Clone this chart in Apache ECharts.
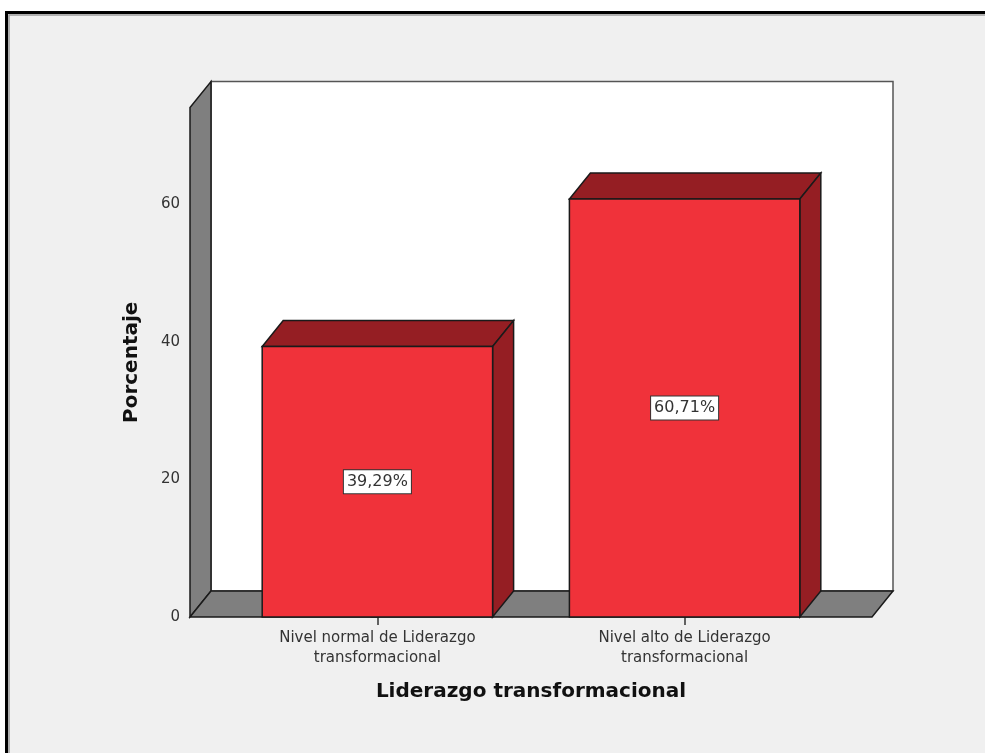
<!DOCTYPE html>
<html>
<head>
<meta charset="utf-8">
<script src="https://cdn.jsdelivr.net/npm/echarts@6/dist/echarts.min.js"></script>
<style>
  html, body { margin: 0; padding: 0; background: #ffffff; }
  #chart { width: 985px; height: 753px; }
</style>
</head>
<body>
<div id="chart"></div>
<script>
// Categories and values
const categories = [
  'Nivel normal de Liderazgo\ntransformacional',
  'Nivel alto de Liderazgo\ntransformacional'
];
const percentages = [39.29, 60.71];
const yTicks = [0, 20, 40, 60];
const yAxisTitle = 'Porcentaje';
const xAxisTitle = 'Liderazgo transformacional';

// Layout of the pseudo-3D box
const X_MIN = -0.61, X_MAX = 1.61;   // category index range covered by the floor
const Y_MAX = 74;
const BAR_WIDTH = 0.75;              // in category units
const DEPTH_X = 21, DEPTH_Y = 26;    // pixel offset of the back plane

const FONT = '"DejaVu Sans", sans-serif';
const EDGE = '#1a1a1a';

function fmtPct(v) {
  return v.toFixed(2).replace('.', ',') + '%';
}

const chart = echarts.init(document.getElementById('chart'), null, { renderer: 'canvas' });

const barData = percentages.map((v, i) => [i, v]);

chart.setOption({
  backgroundColor: '#ffffff',
  animation: false,
  graphic: [
    {
      type: 'rect', z: -10, silent: true,
      shape: { x: 6.5, y: 12.5, width: 1000, height: 800 },
      style: { fill: '#f0f0f0', stroke: '#000000', lineWidth: 3 }
    },
    {
      type: 'rect', z: -9, silent: true,
      shape: { x: 9, y: 15, width: 1000, height: 800 },
      style: { fill: null, stroke: '#9a9a9a', lineWidth: 1.5 }
    }
  ],
  grid: { left: 190, right: 113, top: 107.6, bottom: 136, containLabel: false },
  xAxis: {
    type: 'value',
    min: X_MIN,
    max: X_MAX,
    name: xAxisTitle,
    nameLocation: 'middle',
    nameGap: 65,
    nameTextStyle: { fontFamily: FONT, fontSize: 20, fontWeight: 'bold', color: '#111' },
    axisLine: { show: false },
    splitLine: { show: false },
    axisTick: { show: true, length: 8, customValues: [0, 1], lineStyle: { color: '#333', width: 1.5 } },
    axisLabel: {
      customValues: [0, 1],
      margin: 11,
      fontFamily: FONT, fontSize: 15, lineHeight: 20, color: '#333',
      formatter: v => categories[Math.round(v)]
    }
  },
  yAxis: {
    type: 'value',
    min: 0,
    max: Y_MAX,
    name: yAxisTitle,
    nameLocation: 'middle',
    nameGap: 48,
    nameTextStyle: { fontFamily: FONT, fontSize: 20, fontWeight: 'bold', color: '#111' },
    axisLine: { show: false },
    splitLine: { show: false },
    axisTick: { show: true, length: 7, customValues: yTicks, lineStyle: { color: '#333', width: 1.5 } },
    axisLabel: {
      customValues: yTicks,
      margin: 10,
      fontFamily: FONT, fontSize: 15, color: '#333'
    }
  },
  series: [
    {
      // back wall, left wall and floor
      type: 'custom',
      z: 1,
      clip: false,
      silent: true,
      data: [[0, 0]],
      renderItem: function (params, api) {
        const fb = api.coord([X_MIN, 0]);
        const fr = api.coord([X_MAX, 0]);
        const ft = api.coord([X_MIN, Y_MAX]);
        const off = p => [p[0] + DEPTH_X, p[1] - DEPTH_Y];
        const bb = off(fb), br = off(fr), bt = off(ft);
        return {
          type: 'group',
          children: [
            {
              type: 'rect',
              shape: { x: bt[0], y: bt[1], width: br[0] - bt[0], height: bb[1] - bt[1] },
              style: { fill: '#ffffff', stroke: '#555', lineWidth: 1.5 }
            },
            {
              type: 'polygon',
              shape: { points: [fb, ft, bt, bb] },
              style: { fill: '#7f7f7f', stroke: EDGE, lineWidth: 1.5 }
            },
            {
              type: 'polygon',
              shape: { points: [fb, fr, br, bb] },
              style: { fill: '#7f7f7f', stroke: EDGE, lineWidth: 1.5 }
            }
          ]
        };
      }
    },
    {
      // 3D bars with value labels
      type: 'custom',
      z: 2,
      clip: false,
      data: barData,
      renderItem: function (params, api) {
        const x = api.value(0);
        const v = api.value(1);
        const tl = api.coord([x - BAR_WIDTH / 2, v]);
        const brc = api.coord([x + BAR_WIDTH / 2, 0]);
        const l = tl[0], t = tl[1], r = brc[0], b = brc[1];
        const mid = api.coord([x, v / 2]);
        return {
          type: 'group',
          children: [
            {
              type: 'polygon',
              shape: { points: [[l, t], [r, t], [r + DEPTH_X, t - DEPTH_Y], [l + DEPTH_X, t - DEPTH_Y]] },
              style: { fill: '#951e23', stroke: EDGE, lineWidth: 1.5 }
            },
            {
              type: 'polygon',
              shape: { points: [[r, t], [r, b], [r + DEPTH_X, b - DEPTH_Y], [r + DEPTH_X, t - DEPTH_Y]] },
              style: { fill: '#951e23', stroke: EDGE, lineWidth: 1.5 }
            },
            {
              type: 'rect',
              shape: { x: l, y: t, width: r - l, height: b - t },
              style: { fill: '#f0323a', stroke: EDGE, lineWidth: 1.5 }
            },
            {
              type: 'text',
              z2: 10,
              style: {
                x: mid[0], y: mid[1],
                text: fmtPct(v),
                align: 'center', verticalAlign: 'middle',
                fontFamily: FONT, fontSize: 16, fill: '#333',
                backgroundColor: '#ffffff',
                borderColor: '#333', borderWidth: 1,
                padding: [4, 3, 3, 3]
              }
            }
          ]
        };
      }
    }
  ]
});
</script>
</body>
</html>
